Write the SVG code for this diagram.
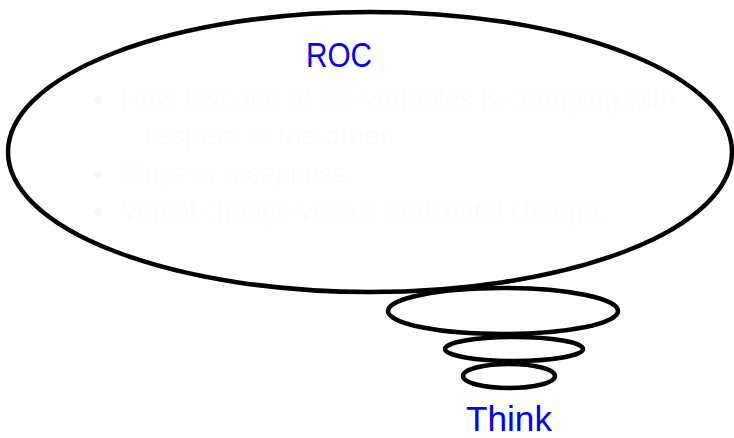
<svg xmlns="http://www.w3.org/2000/svg" width="734" height="438" viewBox="0 0 734 438">
<style>
.bub{fill:none;stroke:#000;stroke-width:4.5}
.lbl{font-family:"Liberation Sans",Arial,sans-serif;font-size:35px;fill:#0000ff}
.txt{font-family:"Liberation Sans",Arial,sans-serif;font-size:27px;fill:#fdfbfb}
.dot{fill:#fef5f0}
</style>
<rect width="734" height="438" fill="#fff"/>
<g id="roc">
<ellipse class="bub" cx="370" cy="152" rx="362" ry="140"/>
<text class="lbl" x="306" y="67" textLength="66" lengthAdjust="spacingAndGlyphs">ROC</text>
<circle class="dot" cx="98" cy="100" r="4"/>
<text class="txt" x="121" y="108" textLength="554" lengthAdjust="spacingAndGlyphs">How fast one of the variables is changing with</text>
<text class="txt" x="145" y="145" textLength="251" lengthAdjust="spacingAndGlyphs">respect to the other.</text>
<circle class="dot" cx="98" cy="175" r="4"/>
<text class="txt" x="121" y="183" textLength="232" lengthAdjust="spacingAndGlyphs">Slope or steepness.</text>
<circle class="dot" cx="98" cy="212" r="4"/>
<text class="txt" x="121" y="220" textLength="485" lengthAdjust="spacingAndGlyphs">Vercal change versus horizontal change.</text>
</g>
<g id="bubble2"><ellipse class="bub" cx="503" cy="311" rx="115" ry="23"/></g>
<g id="bubble3"><ellipse class="bub" cx="514" cy="349" rx="69" ry="12"/></g>
<g id="bubble4"><ellipse class="bub" cx="509" cy="376" rx="46" ry="12"/></g>
<g id="think"><text class="lbl" x="466" y="431" textLength="86" lengthAdjust="spacingAndGlyphs">Think</text></g>
</svg>
